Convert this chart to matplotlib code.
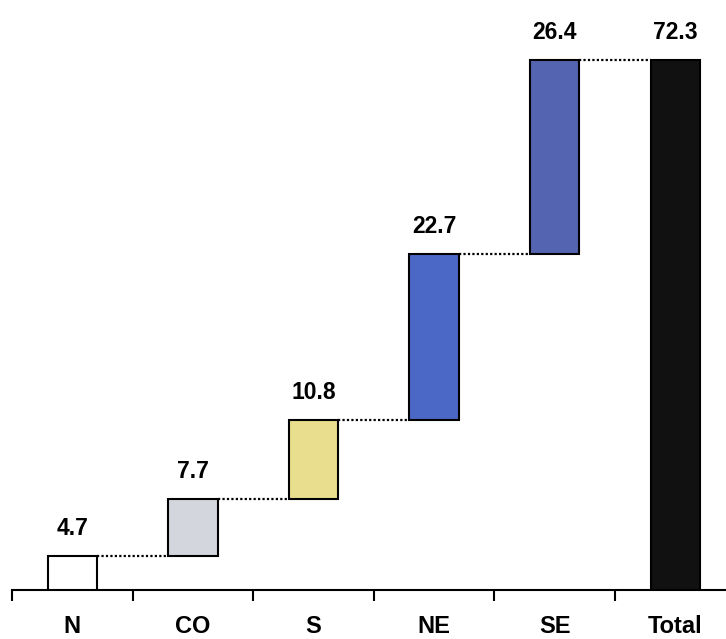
import matplotlib
matplotlib.use("Agg")
import matplotlib.pyplot as plt
import numpy as np

categories = ["N", "CO", "S", "NE", "SE", "Total"]
values = [4.7, 7.7, 10.8, 22.7, 26.4, 72.3]
labels = ["4.7", "7.7", "10.8", "22.7", "26.4", "72.3"]
colors = ["#ffffff", "#d3d6dc", "#e9dd8e", "#4c68c6", "#5564b0", "#111111"]

plt.rcParams['font.family'] = ['Liberation Sans', 'DejaVu Sans']

fig = plt.figure(figsize=(7.26, 6.39), dpi=100)
ax = fig.add_axes([12/726, 49/639, 1 - 12/726, 590/639])

x = np.arange(len(categories))
bottoms = []
cum = 0
for i, v in enumerate(values):
    if i == len(values) - 1:
        bottoms.append(0)
    else:
        bottoms.append(cum)
        cum += v
tops = [b + v for b, v in zip(bottoms, values)]

w = 0.41
ax.bar(x, values, width=w, bottom=bottoms, color=colors, edgecolor="black",
       linewidth=1.5, zorder=3)

# dotted connectors
for i in range(len(values) - 1):
    ax.plot([x[i] + w/2, x[i+1] - w/2], [tops[i], tops[i]], linestyle=(0, (1, 1)),
            color="black", linewidth=1.6, zorder=2)

for xi, t, lab in zip(x, tops, labels):
    ax.annotate(lab, (xi, t), xytext=(0, 11.5), textcoords="offset points",
                ha="center", va="bottom", fontsize=16.5, fontweight="bold")

scale = 530 / 72.3
ax.set_ylim(0, 590 / scale)
ax.set_xlim(-0.5, -0.5 + 714 / 120.6)

ax.set_xticks(x - 0.5, minor=False)
ax.set_xticklabels([])
ax.set_xticks(x, minor=True)
ax.set_xticklabels(categories, minor=True, fontsize=17, fontweight="bold")
ax.tick_params(axis="x", which="major", length=8, width=1.5, direction="out")
ax.tick_params(axis="x", which="minor", length=0, pad=18)
ax.set_yticks([])
for s in ["left", "right", "top"]:
    ax.spines[s].set_visible(False)
ax.spines["bottom"].set_linewidth(1.5)
ax.patch.set_alpha(0)

fig.savefig("out.png", dpi=100)
